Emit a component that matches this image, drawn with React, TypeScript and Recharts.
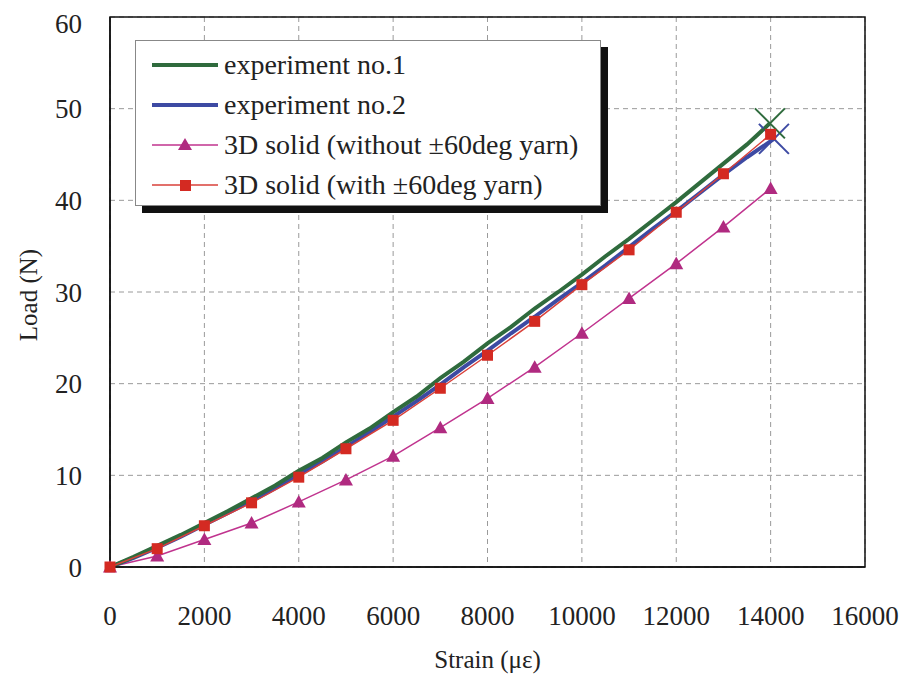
import { LineChart, Line, XAxis, YAxis, CartesianGrid, Legend, ReferenceArea } from 'recharts';

const FONT = 'Liberation Serif, Times New Roman, serif';

// strain (micro-strain) ticks and load ticks
const strainTicks = [0, 2000, 4000, 6000, 8000, 10000, 12000, 14000, 16000];
const loadTicks = [0, 10, 20, 30, 40, 50, 60];

// experiment curves
const exp1Strain = [0, 500, 1000, 1500, 2000, 2500, 3000, 3500, 4000, 4500, 5000, 5500, 6000, 6500, 7000, 7500, 8000, 8500, 9000, 9500, 10000, 10500, 11000, 11500, 12000, 12500, 13000, 13500, 13985];
const exp1Load = [0, 1.1, 2.3, 3.5, 4.8, 6.1, 7.5, 8.9, 10.5, 11.9, 13.6, 15.1, 16.9, 18.6, 20.6, 22.4, 24.4, 26.2, 28.2, 30.0, 31.9, 33.9, 35.8, 37.8, 39.8, 41.9, 44.0, 46.1, 48.4];

const exp2Strain = [0, 500, 1000, 1500, 2000, 2500, 3000, 3500, 4000, 4500, 5000, 5500, 6000, 6500, 7000, 7500, 8000, 8500, 9000, 9500, 10000, 10500, 11000, 11500, 12000, 12500, 13000, 13500, 14070];
const exp2Load = [0, 1.0, 2.1, 3.3, 4.6, 5.9, 7.2, 8.6, 10.1, 11.5, 13.1, 14.7, 16.4, 18.1, 19.9, 21.8, 23.6, 25.5, 27.3, 29.2, 31.0, 32.9, 34.9, 36.9, 38.8, 40.8, 42.8, 44.7, 46.7];

// FE results at every 1000 micro-strain
const simStrain = [0, 1000, 2000, 3000, 4000, 5000, 6000, 7000, 8000, 9000, 10000, 11000, 12000, 13000, 14000];
const simWithout = [0, 1.2, 3.0, 4.8, 7.1, 9.5, 12.1, 15.2, 18.4, 21.8, 25.5, 29.3, 33.1, 37.1, 41.3];
const simWith = [0, 2.0, 4.5, 7.0, 9.8, 12.9, 16.0, 19.5, 23.1, 26.8, 30.8, 34.6, 38.7, 42.9, 47.2];

const legendOrder = ['experiment no.1', 'experiment no.2', '3D solid (without ±60deg yarn)', '3D solid (with ±60deg yarn)'];

const toPoints = (xs: number[], ys: number[]) => xs.map((x, i) => ({ strain: x, load: ys[i] }));

const exp1Data = toPoints(exp1Strain, exp1Load);
const exp2Data = toPoints(exp2Strain, exp2Load);
const withoutData = toPoints(simStrain, simWithout);
const withData = toPoints(simStrain, simWith);

const GREEN = '#2f6b3d';
const BLUE = '#3d4aa3';
const MAGENTA = '#c0338e';
const MAGENTA_MARK = '#b02a80';
const RED = '#d9403a';
const RED_MARK = '#d42a22';

const endCross = (color: string, lastIndex: number) => (props: any) => {
    const { cx, cy, index } = props;
    if (index !== lastIndex || cx == null) return <g key={`c-${index}`} />;
    const s = 15;
    return (
        <g key={`c-${index}`} stroke={color} strokeWidth={2}>
            <line x1={cx - s} y1={cy - s} x2={cx + s} y2={cy + s} />
            <line x1={cx - s} y1={cy + s} x2={cx + s} y2={cy - s} />
        </g>
    );
};

const triangleDot = (props: any) => {
    const { cx, cy, index } = props;
    const s = 7;
    return <polygon key={`t-${index}`} points={`${cx},${cy - s} ${cx - s},${cy + s * 0.8} ${cx + s},${cy + s * 0.8}`} fill={MAGENTA_MARK} />;
};

const squareDot = (props: any) => {
    const { cx, cy, index } = props;
    const s = 5.5;
    return <rect key={`s-${index}`} x={cx - s} y={cy - s} width={s * 2} height={s * 2} fill={RED_MARK} />;
};

const renderLegend = (props: any) => {
    const items = [...(props.payload || [])].sort(
        (a: any, b: any) => legendOrder.indexOf(a.value) - legendOrder.indexOf(b.value)
    );
    return (
        <div style={{
            width: 466, height: 166, background: '#fff', border: '1px solid #888',
            boxShadow: '7px 7px 0 #111', fontFamily: FONT, fontSize: 28, color: '#222',
            boxSizing: 'border-box', paddingTop: 4,
        }}>
            {items.map((entry: any, i: number) => (
                <div key={`l-${i}`} style={{ display: 'flex', alignItems: 'center', height: 40 }}>
                    <svg width={86} height={20} style={{ flex: 'none' }}>
                        <line x1={16} y1={10} x2={82} y2={10} stroke={entry.color} strokeWidth={entry.type === 'line' ? 4 : 1.5} />
                        {entry.type === 'triangle' && <polygon points="49,3 42,15 56,15" fill={MAGENTA_MARK} />}
                        {entry.type === 'square' && <rect x={44} y={5} width={11} height={11} fill={RED_MARK} />}
                    </svg>
                    <span style={{ marginLeft: 2, whiteSpace: 'nowrap' }}>{entry.value}</span>
                </div>
            ))}
        </div>
    );
};

const loadLabel = () => {
    const x = 20;
    const y = 287;
    return (
        <text x={x} y={y} transform={`rotate(-90, ${x}, ${y})`} textAnchor="middle" dominantBaseline="central"
            fontFamily={FONT} fontSize={25} fill="#222">Load (N)</text>
    );
};

export default function App() {
    return (
        <div style={{ width: 899, height: 674, background: '#fff' }}>
            <LineChart width={899} height={674} margin={{ top: 9, right: 42, bottom: 10, left: 0 }}>
                <CartesianGrid stroke="#9a9a9a" strokeDasharray="5 4" />
                <XAxis
                    dataKey="strain"
                    type="number"
                    domain={[0, 16000]}
                    ticks={strainTicks}
                    allowDuplicatedCategory={false}
                    height={105}
                    tickLine={false}
                    tickMargin={33}
                    axisLine={{ stroke: '#111', strokeWidth: 1.5 }}
                    tick={{ fontFamily: FONT, fontSize: 27, fill: '#222' }}
                    label={{ value: 'Strain (με)', position: 'insideBottom', offset: 4, fontFamily: FONT, fontSize: 25, fill: '#222' }}
                />
                <YAxis
                    dataKey="load"
                    type="number"
                    domain={[0, 60]}
                    ticks={loadTicks}
                    width={102}
                    tickLine={false}
                    tickMargin={22}
                    axisLine={{ stroke: '#111', strokeWidth: 1.5 }}
                    tick={{ fontFamily: FONT, fontSize: 27, fill: '#222' }}
                    label={loadLabel}
                />
                <ReferenceArea x1={0} x2={16000} y1={0} y2={60} fill="none" stroke="#111" strokeWidth={1.5} ifOverflow="visible" />
                <Legend
                    layout="vertical"
                    align="center"
                    verticalAlign="middle"
                    content={renderLegend}
                    wrapperStyle={{ position: 'absolute', left: 127, top: 32, width: 466 }}
                />
                <Line data={withoutData} dataKey="load" name="3D solid (without ±60deg yarn)" stroke={MAGENTA} strokeWidth={1.5}
                    dot={triangleDot} legendType="triangle" isAnimationActive={false} />
                <Line data={exp2Data} dataKey="load" name="experiment no.2" stroke={BLUE} strokeWidth={4}
                    dot={endCross(BLUE, exp2Data.length - 1)} legendType="line" isAnimationActive={false} />
                <Line data={exp1Data} dataKey="load" name="experiment no.1" stroke={GREEN} strokeWidth={4}
                    dot={endCross(GREEN, exp1Data.length - 1)} legendType="line" isAnimationActive={false} />
                <Line data={withData} dataKey="load" name="3D solid (with ±60deg yarn)" stroke={RED} strokeWidth={1.5}
                    dot={squareDot} legendType="square" isAnimationActive={false} />
            </LineChart>
        </div>
    );
}
